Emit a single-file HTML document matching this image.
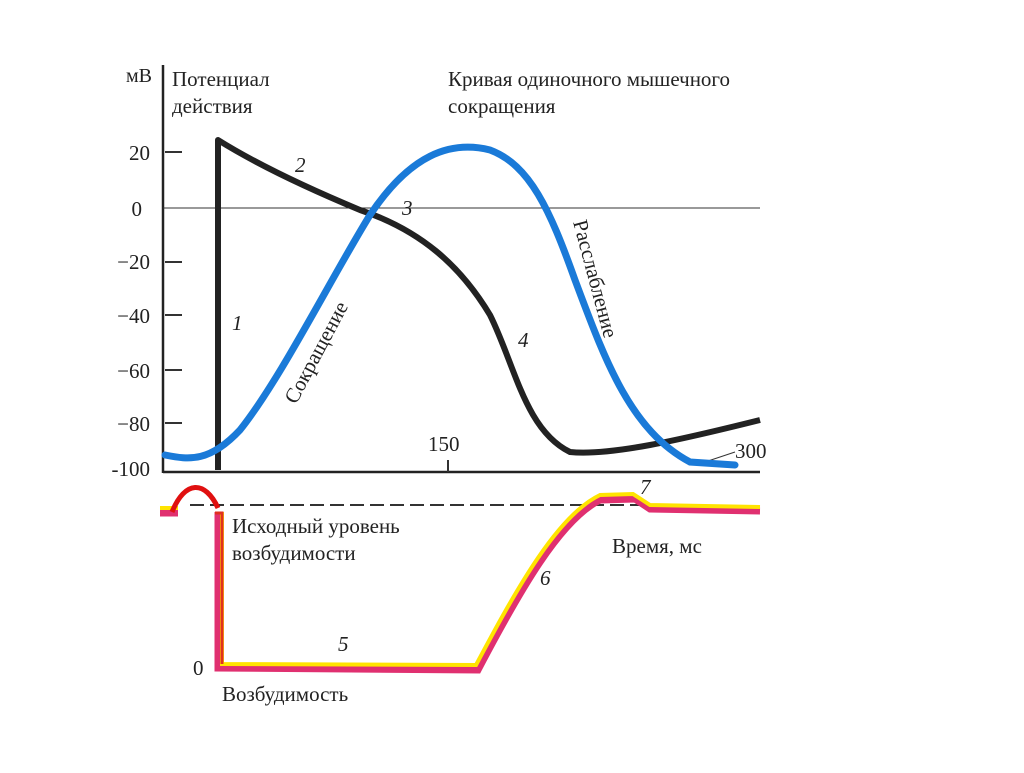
<!DOCTYPE html>
<html><head><meta charset="utf-8"><style>
body{margin:0;background:#fff;width:1024px;height:768px;overflow:hidden}
text{font-family:"Liberation Serif",serif;fill:#222}
</style></head><body>
<svg width="1024" height="768" viewBox="0 0 1024 768">
<line x1="163" y1="65" x2="163" y2="473" stroke="#222" stroke-width="2.5"/>
<line x1="163" y1="472" x2="760" y2="472" stroke="#222" stroke-width="2.5"/>
<line x1="163" y1="208" x2="760" y2="208" stroke="#333" stroke-width="1"/>
<g stroke="#333" stroke-width="2">
<line x1="165" y1="152" x2="182" y2="152"/><line x1="165" y1="262" x2="182" y2="262"/>
<line x1="165" y1="315" x2="182" y2="315"/><line x1="165" y1="370" x2="182" y2="370"/>
<line x1="165" y1="423" x2="182" y2="423"/><line x1="448" y1="460" x2="448" y2="472"/>
</g>
<g font-size="21" text-anchor="end">
<text x="152" y="82" font-size="20">мВ</text>
<text x="150" y="160">20</text><text x="142" y="216">0</text>
<text x="150" y="269">−20</text><text x="150" y="323">−40</text>
<text x="150" y="378">−60</text><text x="150" y="431">−80</text>
<text x="150" y="476">-100</text>
</g>
<g font-size="21">
<text x="172" y="86">Потенциал</text><text x="172" y="113">действия</text>
<text x="448" y="86">Кривая одиночного мышечного</text><text x="448" y="113">сокращения</text>
<text x="428" y="451">150</text><text x="735" y="458">300</text>
<text x="295" y="172" font-style="italic">2</text><text x="402" y="215" font-style="italic">3</text>
<text x="232" y="330" font-style="italic">1</text><text x="518" y="347" font-style="italic">4</text>
<text x="338" y="651" font-style="italic">5</text><text x="540" y="585" font-style="italic">6</text>
<text x="640" y="494" font-style="italic">7</text>
<text x="232" y="533">Исходный уровень</text><text x="232" y="560">возбудимости</text>
<text x="612" y="553">Время, мс</text>
<text x="193" y="675">0</text>
<text x="222" y="701">Возбудимость</text>
<text transform="translate(296,405) rotate(-62)">Сокращение</text>
<text transform="translate(573,222) rotate(75)">Расслабление</text>
</g>
<line x1="705" y1="462" x2="735" y2="452" stroke="#333" stroke-width="1"/>
<path d="M218,470 L218,140 C250,160 300,185 360,210 C420,230 460,265 490,315 C515,365 525,430 570,452 C610,456 680,440 760,420" fill="none" stroke="#222" stroke-width="6" stroke-linejoin="round"/>
<path d="M165,455 C190,460 210,462 240,430 C280,380 330,280 370,215 C410,155 450,140 490,150 C530,165 550,210 575,280 C605,360 630,430 690,462 L735,465" fill="none" stroke="#1a7ad8" stroke-width="7" stroke-linecap="round"/>
<line x1="190" y1="505" x2="655" y2="505" stroke="#333" stroke-width="2" stroke-dasharray="14,6"/>
<path d="M160,513 L178,513 M218,512 L218,668 L478,670 C520,590 560,520 600,500 L635,499 L650,509 L760,511" fill="none" stroke="#e03070" stroke-width="7"/>
<path d="M160,508 L178,508 M222,512 L222,664 L476,665 C518,586 558,515 600,495 L633,494 L650,505 L760,507" fill="none" stroke="#ffe400" stroke-width="4"/>
<path d="M215,513 L222,513 L222,664" fill="none" stroke="#e03020" stroke-width="3"/>
<path d="M172,512 C185,480 205,480 218,508" fill="none" stroke="#e01010" stroke-width="5"/>
</svg>
</body></html>
